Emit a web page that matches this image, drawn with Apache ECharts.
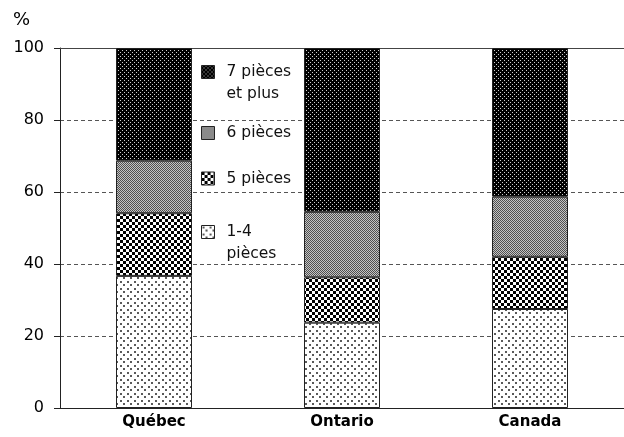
<!DOCTYPE html>
<html>
<head>
<meta charset="utf-8">
<script src="https://cdn.jsdelivr.net/npm/echarts@6/dist/echarts.min.js"></script>
<style>
  html, body { margin: 0; padding: 0; background: #fff; }
  #chart { width: 624px; height: 437px; }
</style>
</head>
<body>
<div id="chart"></div>
<script>
// Répartition des logements selon le nombre de pièces (%)
const regions = ['Québec', 'Ontario', 'Canada'];
const pieces1a4 = [36.7, 23.7, 27.5];
const pieces5 = [17.4, 12.6, 14.5];
const pieces6 = [14.6, 18.2, 16.7];
const pieces7plus = [31.3, 45.5, 41.3];
const yTicks = [0, 20, 40, 60, 80, 100];

const FONT = 'DejaVu Sans';

// Small repeating canvas tiles used as hatch fills
function tile(w, h, paint) {
  const c = document.createElement('canvas');
  c.width = w; c.height = h;
  const g = c.getContext('2d');
  paint(g, w, h);
  return { image: c, repeat: 'repeat' };
}

// 7 pièces et plus: black with light dots
const fill7 = tile(4, 4, (g, w, h) => {
  g.fillStyle = '#000'; g.fillRect(0, 0, w, h);
  g.fillStyle = '#d0d0d0';
  g.fillRect(0, 0, 1, 1);
  g.fillRect(2, 2, 1, 1);
});
// 6 pièces: fine grey checker
const fill6 = tile(2, 2, (g) => {
  g.fillStyle = '#c4c4c4'; g.fillRect(0, 0, 2, 2);
  g.fillStyle = '#505050';
  g.fillRect(0, 0, 1, 1);
  g.fillRect(1, 1, 1, 1);
});
// 5 pièces: coarse black/white checker
const fill5 = tile(6, 6, (g) => {
  g.fillStyle = '#fff'; g.fillRect(0, 0, 6, 6);
  g.fillStyle = '#000';
  g.fillRect(0, 0, 3, 3);
  g.fillRect(3, 3, 3, 3);
});
// 1-4 pièces: white with sparse grey dots
const fill14 = tile(7, 7, (g) => {
  g.fillStyle = '#fff'; g.fillRect(0, 0, 7, 7);
  g.fillStyle = '#5a5a5a';
  g.fillRect(1, 1, 2, 2);
  g.fillRect(4, 4, 2, 2);
});

const names = ['1-4 pièces', '5 pièces', '6 pièces', '7 pièces et plus'];
const values = [pieces1a4, pieces5, pieces6, pieces7plus];
const fills = [fill14, fill5, fill6, fill7];

const series = names.map((n, i) => ({
  name: n,
  type: 'bar',
  stack: 'total',
  barWidth: 76,
  data: values[i],
  itemStyle: { color: fills[i], borderColor: '#222', borderWidth: 1 },
  emphasis: { disabled: true }
}));

// One legend block per key; a blank first line keeps the swatch level
// with the first line of a two-line label.
const LINE = 22;
function legendAt(name, centerY, label) {
  const lines = label.split('\n').length;
  const text = lines > 1 ? ' \n' + label : label;
  const n = lines > 1 ? lines + 1 : 1;
  return {
    data: [name],
    left: 201, top: centerY - (n * LINE) / 2,
    padding: 0,
    itemWidth: 13, itemHeight: 13,
    icon: 'rect',
    selectedMode: false,
    formatter: () => text,
    textStyle: { fontFamily: FONT, fontSize: 15.5, color: '#111', lineHeight: LINE, padding: [0, 0, 0, 7] },
    itemStyle: { borderColor: '#222', borderWidth: 1 }
  };
}

const chart = echarts.init(document.getElementById('chart'), null, { renderer: 'canvas' });
chart.setOption({
  animation: false,
  backgroundColor: '#fff',
  textStyle: { fontFamily: FONT },
  grid: { left: 60, right: 0, top: 48, bottom: 29, containLabel: false },
  legend: [
    legendAt('7 pièces et plus', 72, '7 pièces\net plus'),
    legendAt('6 pièces', 133, '6 pièces'),
    legendAt('5 pièces', 178.5, '5 pièces'),
    legendAt('1-4 pièces', 232, '1-4\npièces')
  ],
  xAxis: [{
    type: 'category',
    data: regions,
    axisLine: { lineStyle: { color: '#222', width: 1 } },
    axisTick: { show: false },
    axisLabel: { fontFamily: FONT, fontSize: 15, fontWeight: 'bold', color: '#000', margin: 7 }
  }, {
    type: 'category',
    data: regions,
    position: 'top',
    axisLine: { show: true, lineStyle: { color: '#444', width: 1 } },
    axisTick: { show: false },
    axisLabel: { show: false }
  }],
  yAxis: {
    type: 'value',
    min: yTicks[0], max: yTicks[yTicks.length - 1], interval: 20,
    name: '%',
    nameLocation: 'end',
    nameGap: 19,
    nameTextStyle: { fontFamily: FONT, fontSize: 18, color: '#000', align: 'right', padding: [0, 30, 0, 0] },
    axisLine: { show: true, lineStyle: { color: '#222', width: 1 } },
    axisTick: { show: true, inside: false, length: 6, lineStyle: { color: '#222' } },
    axisLabel: { fontFamily: FONT, fontSize: 16, color: '#000', margin: 16 },
    splitLine: { show: true, lineStyle: { color: '#555', type: [4, 3], width: 1 } }
  },
  series: series
});
</script>
</body>
</html>
